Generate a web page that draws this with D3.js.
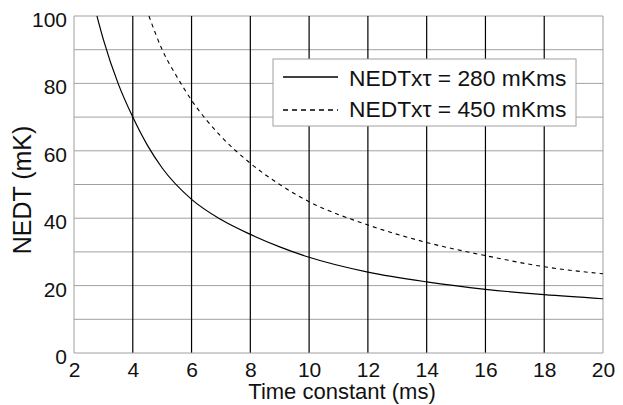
<!DOCTYPE html>
<html lang="en">
<head>
<meta charset="utf-8">
<title>NEDT vs time constant</title>
<script src="https://cdn.jsdelivr.net/npm/d3@7"></script>
<style>
  body { margin: 0; background: #fff; }
  svg text { font-family: "Liberation Sans", Arial, sans-serif; fill: #111; }
</style>
</head>
<body>
<svg id="chart" width="623" height="405"></svg>
<script>
// values
var tau280 = [2.78, 3, 3.5, 4, 4.5, 5, 6, 7, 8, 9, 10, 12, 14, 16, 18, 20];
var nedt280 = [100, 93, 80, 70, 61.6, 54.9, 45.6, 39.6, 35.2, 31.5, 28.4, 24.0, 21.1, 18.9, 17.3, 16.1];
var tau450 = [4.55, 5, 5.5, 6, 7, 8, 9, 10, 12, 14, 16, 18, 20];
var nedt450 = [100, 90, 82, 75, 64.3, 56.3, 50, 44.9, 38.0, 32.8, 28.9, 25.6, 23.5];
var xTicks = [2, 4, 6, 8, 10, 12, 14, 16, 18, 20];
var yTicks = [0, 20, 40, 60, 80, 100];
var yGrid = [10, 20, 30, 40, 50, 60, 70, 80, 90, 100];
var legendLabels = ["NEDTx\u03c4 = 280 mKms", "NEDTx\u03c4 = 450 mKms"];

var svg = d3.select("#chart");
var pL = 74, pR = 603, pT = 16, pB = 353;

var x = d3.scaleLinear().domain([2, 20]).range([pL, pR]);
var y = d3.scaleLinear().domain([0, 100]).range([pB, pT]);

// horizontal grid (gray)
svg.selectAll(".hg").data(yGrid).enter().append("line")
  .attr("x1", pL).attr("x2", pR)
  .attr("y1", function(d){ return y(d); }).attr("y2", function(d){ return y(d); })
  .attr("stroke", "#a0a0a0").attr("stroke-width", 1);

// vertical grid (black)
svg.selectAll(".vg").data(xTicks.slice(1, -1)).enter().append("line")
  .attr("x1", function(d){ return x(d); }).attr("x2", function(d){ return x(d); })
  .attr("y1", pT).attr("y2", pB)
  .attr("stroke", "#000").attr("stroke-width", 1.2);

// frame
svg.append("line").attr("x1", pL).attr("x2", pL).attr("y1", pT).attr("y2", pB).attr("stroke", "#a0a0a0");
svg.append("line").attr("x1", pR).attr("x2", pR).attr("y1", pT).attr("y2", pB).attr("stroke", "#a0a0a0");
svg.append("line").attr("x1", pL).attr("x2", pR).attr("y1", pB).attr("y2", pB).attr("stroke", "#a0a0a0");

// axes
var xAxis = svg.append("g").attr("transform", "translate(0," + pB + ")")
  .call(d3.axisBottom(x).tickValues(xTicks).tickSize(0).tickPadding(9));
var yAxis = svg.append("g").attr("transform", "translate(" + pL + ",0)")
  .call(d3.axisLeft(y).tickValues(yTicks).tickSize(0).tickPadding(7));
[xAxis, yAxis].forEach(function(g){
  g.select(".domain").remove();
  g.selectAll("text").attr("font-size", 21).attr("fill", "#111")
    .attr("font-family", "Liberation Sans, Arial, sans-serif");
});
yAxis.selectAll("text").attr("dy", "0.5em");

// curves
var line = d3.line().x(function(d){ return x(d[0]); }).y(function(d){ return y(d[1]); })
  .curve(d3.curveMonotoneX);
svg.append("path").datum(d3.zip(tau280, nedt280)).attr("d", line)
  .attr("fill", "none").attr("stroke", "#000").attr("stroke-width", 1.2);
svg.append("path").datum(d3.zip(tau450, nedt450)).attr("d", line)
  .attr("fill", "none").attr("stroke", "#000").attr("stroke-width", 1.1)
  .attr("stroke-dasharray", "4,4");

// legend
svg.append("rect").attr("x", 273).attr("y", 59).attr("width", 303).attr("height", 67)
  .attr("fill", "#fff").attr("stroke", "#a0a0a0");
var dashes = [null, "5,4"];
legendLabels.forEach(function(t, i){
  var ly = 77 + i * 33;
  svg.append("line").attr("x1", 283).attr("x2", 338).attr("y1", ly).attr("y2", ly)
    .attr("stroke", "#000").attr("stroke-width", 1.4).attr("stroke-dasharray", dashes[i]);
  svg.append("text").attr("x", 349).attr("y", 86 + i * 31).attr("font-size", 22.8).text(t);
});

// axis titles
svg.append("text").attr("x", 342).attr("y", 399).attr("text-anchor", "middle")
  .attr("font-size", 22).text("Time constant (ms)");
svg.append("text").attr("transform", "translate(31,190) rotate(-90)")
  .attr("text-anchor", "middle").attr("font-size", 25).text("NEDT (mK)");
</script>
</body>
</html>
